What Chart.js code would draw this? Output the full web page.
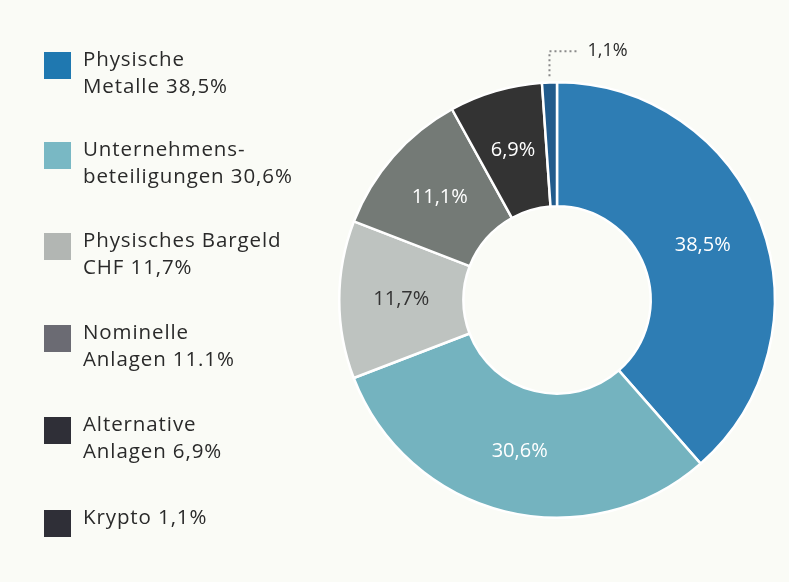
<!DOCTYPE html>
<html>
<head>
<meta charset="utf-8">
<script src="https://cdn.jsdelivr.net/npm/chart.js@4"></script>
<style>
  html, body { margin: 0; padding: 0; background: #fafbf6; }
  #wrap { position: relative; width: 789px; height: 582px; overflow: hidden; }
  #myChart { position: absolute; left: 0; top: 0; }
  #legend { position: absolute; left: 44px; top: 0; font-family: "Open Sans", sans-serif; font-size: 20.5px; letter-spacing: 0.9px; color: #2a2a2a; }
  .item { position: absolute; left: 0; white-space: nowrap; }
  .box { position: absolute; left: 0; top: 0; width: 27px; height: 27px; }
  .txt { position: absolute; left: 39px; top: -7px; line-height: 27px; }
</style>
</head>
<body>
<div id="wrap">
  <canvas id="myChart" width="789" height="582"></canvas>
  <div id="legend"></div>
</div>
<script>
const categories = [
  ["Physische", "Metalle 38,5%"],
  ["Unternehmens-", "beteiligungen 30,6%"],
  ["Physisches Bargeld", "CHF 11,7%"],
  ["Nominelle", "Anlagen 11.1%"],
  ["Alternative", "Anlagen 6,9%"],
  ["Krypto 1,1%"],
];
const values = [38.5, 30.6, 11.7, 11.1, 6.9, 1.1];
const valueLabels = ["38,5%", "30,6%", "11,7%", "11,1%", "6,9%", "1,1%"];

const sliceColors = ["#2e7db4", "#74b3bf", "#bec3c0", "#747a76", "#333333", "#215b8c"];
const labelColors = ["#ffffff", "#ffffff", "#333333", "#ffffff", "#ffffff", "#2a2a2a"];
const legendColors = ["#1f78b0", "#79b8c4", "#b2b6b3", "#6b6b73", "#2f2f37", "#2f2f37"];
const legendTops = [52, 142, 233, 325, 417, 510];

// html legend on the left
let legend = document.querySelector("#legend");
categories.forEach(function (lines, i) {
  let item = document.createElement("div");
  item.className = "item";
  item.style.top = legendTops[i] + "px";
  item.innerHTML =
    '<div class="box" style="background:' + legendColors[i] + '"></div>' +
    '<div class="txt">' + lines.join("<br>") + "</div>";
  legend.appendChild(item);
});

// labels inside slices, small slice gets a dotted leader
const sliceLabels = {
  id: "sliceLabels",
  afterDatasetsDraw(chart) {
    const ctx = chart.ctx;
    const arcs = chart.getDatasetMeta(0).data;
    ctx.save();
    ctx.textAlign = "center";
    ctx.textBaseline = "middle";
    arcs.forEach(function (arc, i) {
      const p = arc.getProps(["x", "y", "startAngle", "endAngle", "innerRadius", "outerRadius"], true);
      const mid = (p.startAngle + p.endAngle) / 2;
      if (i === arcs.length - 1) {
        const px = p.x + p.outerRadius * Math.cos(mid);
        const top = p.y - p.outerRadius;
        ctx.strokeStyle = "#8a8a8a";
        ctx.lineWidth = 2;
        ctx.setLineDash([2, 3]);
        ctx.beginPath();
        ctx.moveTo(px, top - 6);
        ctx.lineTo(px, top - 31);
        ctx.lineTo(px + 30, top - 31);
        ctx.stroke();
        ctx.setLineDash([]);
        ctx.font = "18px 'Open Sans'";
        ctx.fillStyle = labelColors[i];
        ctx.textAlign = "left";
        ctx.fillText(valueLabels[i], px + 38, top - 31);
        return;
      }
      const r = (p.innerRadius + p.outerRadius) / 2;
      ctx.font = "20px 'Open Sans'";
      ctx.fillStyle = labelColors[i];
      ctx.fillText(valueLabels[i], p.x + r * Math.cos(mid), p.y + r * Math.sin(mid));
    });
    ctx.restore();
  },
};

const ctx = document.getElementById("myChart");

new Chart(ctx, {
  type: "doughnut",
  data: {
    labels: valueLabels,
    datasets: [
      {
        data: values,
        backgroundColor: sliceColors,
        borderColor: "#ffffff",
        borderWidth: 2.5,
      },
    ],
  },
  options: {
    responsive: false,
    animation: false,
    cutout: "43%",
    rotation: 0,
    events: [],
    layout: {
      padding: { left: 338, right: 13, top: 81, bottom: 63 },
    },
    plugins: {
      legend: { display: false },
      tooltip: { enabled: false },
    },
  },
  plugins: [sliceLabels],
});
</script>
</body>
</html>
